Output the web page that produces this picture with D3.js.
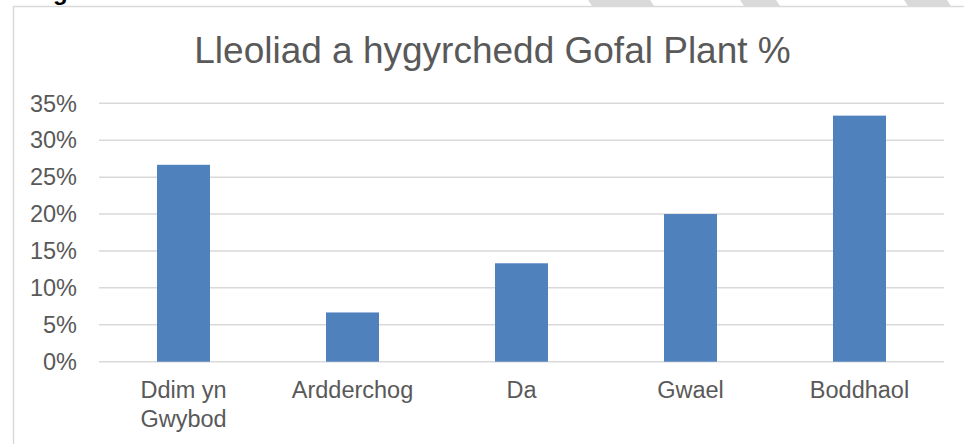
<!DOCTYPE html>
<html>
<head>
<meta charset="utf-8">
<script src="https://d3js.org/d3.v7.min.js"></script>
<style>
  body { margin: 0; background: #fff; }
  svg { display: block; font-family: "Liberation Sans", Arial, sans-serif; }
</style>
</head>
<body>
<svg id="chart" width="964" height="444"></svg>
<script>
// data
const categories = ["Ddim yn Gwybod", "Ardderchog", "Da", "Gwael", "Boddhaol"];
const labelLines = [["Ddim yn", "Gwybod"], ["Ardderchog"], ["Da"], ["Gwael"], ["Boddhaol"]];
const values = [0.2667, 0.0667, 0.1333, 0.2, 0.3333];
const yTicks = [0, 0.05, 0.1, 0.15, 0.2, 0.25, 0.3, 0.35];
const title = "Lleoliad a hygyrchedd Gofal Plant %";

const svg = d3.select("#chart");
const W = 964;

// page bits above the chart frame (cut-off heading + grey stripes)
svg.append("text")
    .attr("x", 53).attr("y", 0)
    .style("font-size", "24px").style("font-weight", "bold")
    .attr("fill", "#000")
    .text("g.");

const stripes = [[588, 650], [740, 776], [904, 947]];
svg.selectAll("polygon.stripe").data(stripes).join("polygon")
    .attr("class", "stripe")
    .attr("points", d => `${d[0]},0 ${d[1]},0 ${d[1] + 4},6 ${d[0] + 4},6`)
    .attr("fill", "#d9d9d9");

// chart frame
svg.append("path")
    .attr("d", `M13.5,444 V6.5 H${W}`)
    .attr("fill", "none")
    .attr("stroke", "#d9d9d9")
    .attr("stroke-width", 1.5);

// scales
const x = d3.scaleBand().domain(categories).range([99, 944]).padding(0);
const y = d3.scaleLinear().domain([0, 0.35]).range([361.7, 103.3]);
const barW = x.bandwidth() / 3.19;   // excel gap width ~219%

// gridlines
svg.append("g").selectAll("line").data(yTicks).join("line")
    .attr("x1", 99).attr("x2", 944)
    .attr("y1", d => y(d)).attr("y2", d => y(d))
    .attr("stroke", "#d9d9d9")
    .attr("stroke-width", 1.5);

// y tick labels
svg.append("g").selectAll("text").data(yTicks).join("text")
    .attr("x", 77)
    .attr("y", d => y(d))
    .attr("dy", "0.35em")
    .attr("text-anchor", "end")
    .attr("fill", "#595959")
    .style("font-size", "23.5px")
    .text(d => d3.format(".0%")(d));

// bars
svg.append("g").selectAll("rect").data(values).join("rect")
    .attr("x", (d, i) => x(categories[i]) + x.bandwidth() / 2 - barW / 2)
    .attr("width", barW)
    .attr("y", d => y(d))
    .attr("height", d => y(0) - y(d))
    .attr("fill", "#4f81bd");

// category labels
const cat = svg.append("g").selectAll("text").data(categories).join("text")
    .attr("x", d => x(d) + x.bandwidth() / 2)
    .attr("y", 398)
    .attr("text-anchor", "middle")
    .attr("fill", "#595959")
    .style("font-size", "23.5px");
cat.each(function(d, i) {
    d3.select(this).selectAll("tspan").data(labelLines[i]).join("tspan")
        .attr("x", x(d) + x.bandwidth() / 2)
        .attr("dy", (t, j) => j === 0 ? 0 : 29)
        .text(t => t);
});

// title
svg.append("text")
    .attr("x", 492.5).attr("y", 63)
    .attr("text-anchor", "middle")
    .attr("fill", "#595959")
    .style("font-size", "37px")
    .text(title);
</script>
</body>
</html>
